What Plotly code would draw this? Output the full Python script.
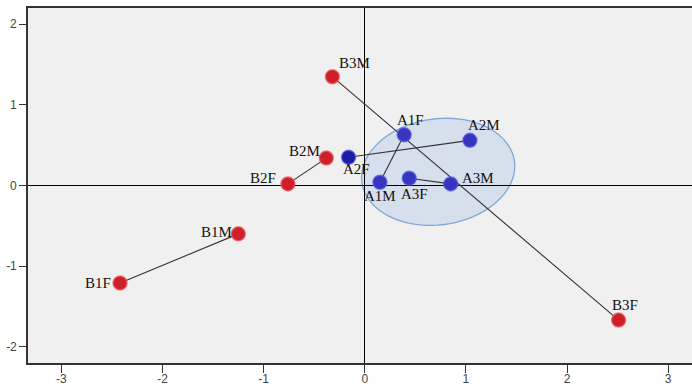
import numpy as np
import plotly.graph_objects as go

labels = ["B3M", "A1F", "A2M", "B2M", "A2F", "B2F", "A1M", "A3F", "A3M", "B1M", "B1F", "B3F"]
xs = [-0.32, 0.39, 1.04, -0.38, -0.16, -0.76, 0.15, 0.44, 0.85, -1.25, -2.42, 2.51]
ys = [1.35, 0.63, 0.56, 0.34, 0.35, 0.02, 0.04, 0.09, 0.02, -0.60, -1.21, -1.67]
groups = ["B", "A", "A", "B", "A", "B", "A", "A", "A", "B", "B", "B"]
pairs = [("B3M", "B3F"), ("B1M", "B1F"), ("B2M", "B2F"), ("A2F", "A2M"), ("A1F", "A1M"), ("A3F", "A3M")]
x_ticks = [-3, -2, -1, 0, 1, 2, 3]
x_ticktext = ["-3", "-2", "-1", "0", "1", "2", "3"]
y_ticks = [-2, -1, 0, 1, 2]
y_ticktext = ["-2", "-1", "0", "1", "2"]

# label offsets (pixels)
offsets = {
    "B3M": (22, 14), "A1F": (6, 15), "A2M": (14, 15), "B2M": (-22, 7), "A2F": (8, -12),
    "B2F": (-25, 6), "A1M": (0, -14), "A3F": (5, -16), "A3M": (27, 6), "B1M": (-22, 2),
    "B1F": (-22, 0), "B3F": (6, 15),
}

W, H = 692, 387
xr = [-3.33, 3.236]
yr = [-2.202, 2.202]
ml, mr, mt, mb = 28, 0, 8, 24

fig = go.Figure()

idx = {l: i for i, l in enumerate(labels)}
pxu = (W - ml - mr) / (xr[1] - xr[0])
pyu = (H - mt - mb) / (yr[1] - yr[0])
cx, cy = 0.726, 0.17
th = np.deg2rad(8)
t = np.linspace(0, 2 * np.pi, 80)
ex_px = 77 * np.cos(t)
ey_px = 53 * np.sin(t)
rx = ex_px * np.cos(th) - ey_px * np.sin(th)
ry = ex_px * np.sin(th) + ey_px * np.cos(th)
exd = cx + rx / pxu
eyd = cy + ry / pyu
path = "M " + " L ".join(f"{x:.4f},{y:.4f}" for x, y in zip(exd, eyd)) + " Z"
fig.add_shape(type="path", path=path, fillcolor="rgba(170,195,230,0.38)",
              line=dict(color="#7fa8d8", width=1.3), layer="below")

lx, ly = [], []
for p, q in pairs:
    lx += [xs[idx[p]], xs[idx[q]], None]
    ly += [ys[idx[p]], ys[idx[q]], None]
fig.add_trace(go.Scatter(x=lx, y=ly, mode="lines", line=dict(color="#333333", width=1.1),
                         hoverinfo="skip", showlegend=False))

colors = []
for l, g in zip(labels, groups):
    if g == "B":
        colors.append("#cf1f2b")
    elif l == "A2F":
        colors.append("#1c1ca6")
    else:
        colors.append("#3535c0")
lines = ["rgba(235,90,95,0.7)" if g == "B" else "rgba(90,90,220,0.7)" for g in groups]
fig.add_trace(go.Scatter(x=xs, y=ys, mode="markers",
                         marker=dict(size=14, color=colors, line=dict(color=lines, width=1.5)),
                         showlegend=False))

for l, x, y in zip(labels, xs, ys):
    dx, dy = offsets[l]
    fig.add_annotation(x=x, y=y, text=l, showarrow=False, xshift=dx, yshift=dy,
                       font=dict(family="Liberation Serif, Times New Roman, serif", size=15, color="#111111"))

axis_common = dict(showgrid=False, zeroline=True, zerolinecolor="#000000", zerolinewidth=1.2,
                   showline=True, linecolor="#333333", linewidth=1.6, mirror=True,
                   ticks="outside", tickcolor="#333333", tickwidth=1.2,
                   tickfont=dict(family="Liberation Sans, Arial, sans-serif", size=12, color="#444444"),
                   automargin=False)
fig.update_xaxes(range=xr, tickvals=x_ticks, ticktext=x_ticktext, ticklen=8,
                 ticklabelstandoff=-4, **axis_common)
fig.update_yaxes(range=yr, tickvals=y_ticks, ticktext=y_ticktext, ticklen=7, **axis_common)
fig.update_layout(width=W, height=H, margin=dict(l=ml, r=mr, t=mt, b=mb),
                  plot_bgcolor="#f0f0f0", paper_bgcolor="#ffffff", template="none")
fig.write_html("out.html")
